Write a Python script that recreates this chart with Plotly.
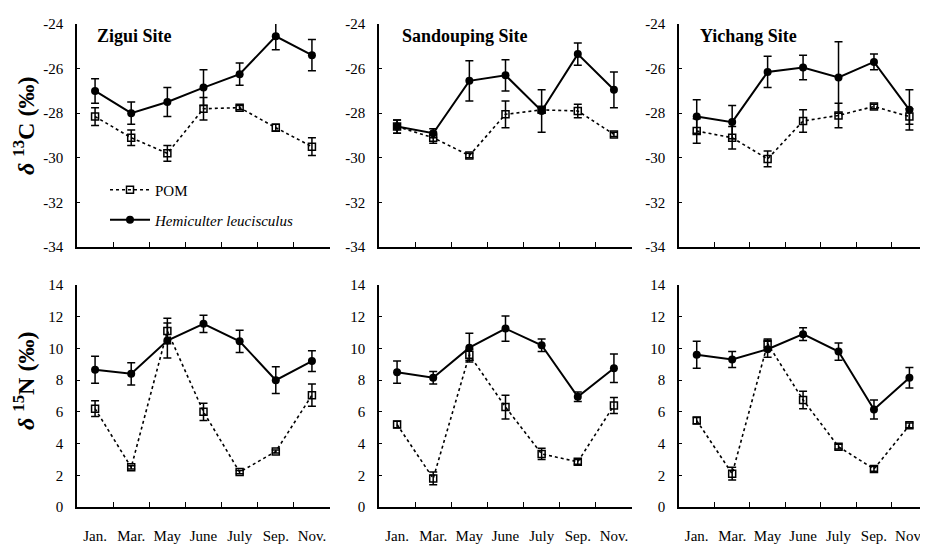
import plotly.graph_objects as go
from plotly.subplots import make_subplots

months = ["Jan.", "Mar.", "May", "June", "July", "Sep.", "Nov."]
sites = ["Zigui Site", "Sandouping Site", "Yichang Site"]
c13_ticks = [-34, -32, -30, -28, -26, -24]
c13_ticktext = ["-34", "-32", "-30", "-28", "-26", "-24"]
n15_ticks = [0, 2, 4, 6, 8, 10, 12, 14]
n15_ticktext = ["0", "2", "4", "6", "8", "10", "12", "14"]

# delta 13C
c13_hemi = [
    [-27.0, -28.0, -27.5, -26.85, -26.25, -24.55, -25.4],
    [-28.6, -28.9, -26.55, -26.3, -27.9, -25.35, -26.95],
    [-28.15, -28.4, -26.15, -25.95, -26.4, -25.7, -27.85],
]
c13_hemi_err = [
    [0.55, 0.5, 0.65, 0.8, 0.5, 0.6, 0.7],
    [0.3, 0.2, 0.9, 0.7, 0.95, 0.5, 0.8],
    [0.75, 0.75, 0.7, 0.55, 1.6, 0.35, 0.9],
]
c13_pom = [
    [-28.15, -29.1, -29.8, -27.8, -27.75, -28.65, -29.5],
    [-28.6, -29.1, -29.9, -28.05, -27.85, -27.9, -28.95],
    [-28.8, -29.1, -30.05, -28.35, -28.1, -27.7, -28.15],
]
c13_pom_err = [
    [0.4, 0.35, 0.35, 0.5, 0.1, 0.15, 0.4],
    [0.3, 0.25, 0.1, 0.6, 0.1, 0.3, 0.1],
    [0.55, 0.5, 0.35, 0.5, 0.55, 0.1, 0.35],
]
# delta 15N
n15_hemi = [
    [8.65, 8.4, 10.5, 11.55, 10.45, 8.0, 9.2],
    [8.5, 8.15, 10.05, 11.25, 10.2, 6.95, 8.75],
    [9.6, 9.3, 9.95, 10.9, 9.8, 6.15, 8.15],
]
n15_hemi_err = [
    [0.85, 0.7, 1.1, 0.55, 0.7, 0.85, 0.65],
    [0.7, 0.4, 0.9, 0.8, 0.4, 0.3, 0.9],
    [0.85, 0.5, 0.5, 0.4, 0.55, 0.6, 0.65],
]
n15_pom = [
    [6.2, 2.5, 11.1, 6.0, 2.2, 3.5, 7.05],
    [5.2, 1.8, 9.6, 6.3, 3.35, 2.85, 6.4],
    [5.45, 2.1, 10.3, 6.75, 3.8, 2.4, 5.15],
]
n15_pom_err = [
    [0.5, 0.1, 0.8, 0.55, 0.1, 0.1, 0.7],
    [0.2, 0.4, 0.35, 0.75, 0.35, 0.15, 0.5],
    [0.2, 0.4, 0.3, 0.55, 0.15, 0.15, 0.15],
]

W, H = 928, 548
OFF = 8  # page body margin shifts the figure by this many pixels
FONT = "Liberation Serif"


def px2x(px):
    return (px - OFF) / W


def px2y(py):
    return 1 - (py - OFF) / H


fig = make_subplots(rows=2, cols=3)


def add_pair(row, col, pom, pom_err, hemi, hemi_err, show):
    fig.add_trace(go.Scatter(
        x=months, y=pom, name="POM", mode="lines+markers",
        line=dict(color="black", width=1.6, dash="dot"),
        marker=dict(symbol="square-open", size=7, color="black", line=dict(width=1.5)),
        error_y=dict(type="data", array=pom_err, color="black", thickness=1.5, width=4),
        showlegend=show, legend="legend"), row=row, col=col)
    fig.add_trace(go.Scatter(
        x=months, y=hemi, name="<i>Hemiculter leucisculus</i>", mode="lines+markers",
        line=dict(color="black", width=2),
        marker=dict(symbol="circle", size=8, color="black"),
        error_y=dict(type="data", array=hemi_err, color="black", thickness=1.5, width=4),
        showlegend=show, legend="legend2"), row=row, col=col)


for i in range(3):
    add_pair(1, i + 1, c13_pom[i], c13_pom_err[i], c13_hemi[i], c13_hemi_err[i], i == 0)
    add_pair(2, i + 1, n15_pom[i], n15_pom_err[i], n15_hemi[i], n15_hemi_err[i], False)

xdom = [[px2x(77), px2x(330)], [px2x(379), px2x(632)], [px2x(679), 1.0]]
ydom_top = [px2y(247), px2y(24)]
ydom_bot = [px2y(507), px2y(285)]

axis_common = dict(showline=True, linecolor="black", linewidth=1.5, showgrid=False,
                   zeroline=False, automargin=False,
                   tickfont=dict(family=FONT, size=15, color="black"))

for r in (1, 2):
    for c in (1, 2, 3):
        xr = [-0.5, 6.5] if c < 3 else [-0.5, 6.75]
        fig.update_xaxes(domain=xdom[c - 1], range=xr, ticks="inside", ticklen=5,
                         tickcolor="black", tickwidth=1.2, tickson="boundaries",
                         showticklabels=(r == 2), ticklabelstandoff=14, tickangle=0,
                         **axis_common, row=r, col=c)
        if r == 1:
            fig.update_yaxes(domain=ydom_top, range=[-34, -24], tickvals=c13_ticks,
                             ticktext=c13_ticktext,
                             ticks="inside", ticklen=3, tickcolor="black",
                             ticklabelstandoff=9, **axis_common, row=r, col=c)
        else:
            fig.update_yaxes(domain=ydom_bot, range=[0, 14], tickvals=n15_ticks,
                             ticktext=n15_ticktext,
                             ticks="inside", ticklen=3, tickcolor="black",
                             ticklabelstandoff=9, **axis_common, row=r, col=c)

# site titles
title_x = [95, 400, 698]
for i, s in enumerate(sites):
    fig.add_annotation(x=px2x(title_x[i]), y=px2y(36), xref="paper", yref="paper",
                       text=f"<b>{s}</b>", showarrow=False, xanchor="left", yanchor="middle",
                       font=dict(family=FONT, size=18, color="black"))

# y-axis titles
fig.add_annotation(x=px2x(7), y=px2y(126), xref="paper", yref="paper",
                   text="<b><i>δ</i> <sup>13</sup>C (‰)</b>", textangle=-90, showarrow=False,
                   xanchor="left", yanchor="middle",
                   font=dict(family=FONT, size=24, color="black"))
fig.add_annotation(x=px2x(7), y=px2y(381), xref="paper", yref="paper",
                   text="<b><i>δ</i> <sup>15</sup>N (‰)</b>", textangle=-90, showarrow=False,
                   xanchor="left", yanchor="middle",
                   font=dict(family=FONT, size=24, color="black"))

leg = dict(xanchor="left", yanchor="middle", bgcolor="rgba(0,0,0,0)",
           font=dict(family=FONT, size=15, color="black"), itemwidth=40)
fig.update_layout(
    width=W, height=H, margin=dict(l=0, r=0, t=0, b=0, autoexpand=False),
    paper_bgcolor="white", plot_bgcolor="white",
    font=dict(family=FONT, color="black"),
    legend=dict(x=px2x(105), y=px2y(190), **leg),
    legend2=dict(x=px2x(105), y=px2y(220), **leg),
)

fig.write_html("out.html")
